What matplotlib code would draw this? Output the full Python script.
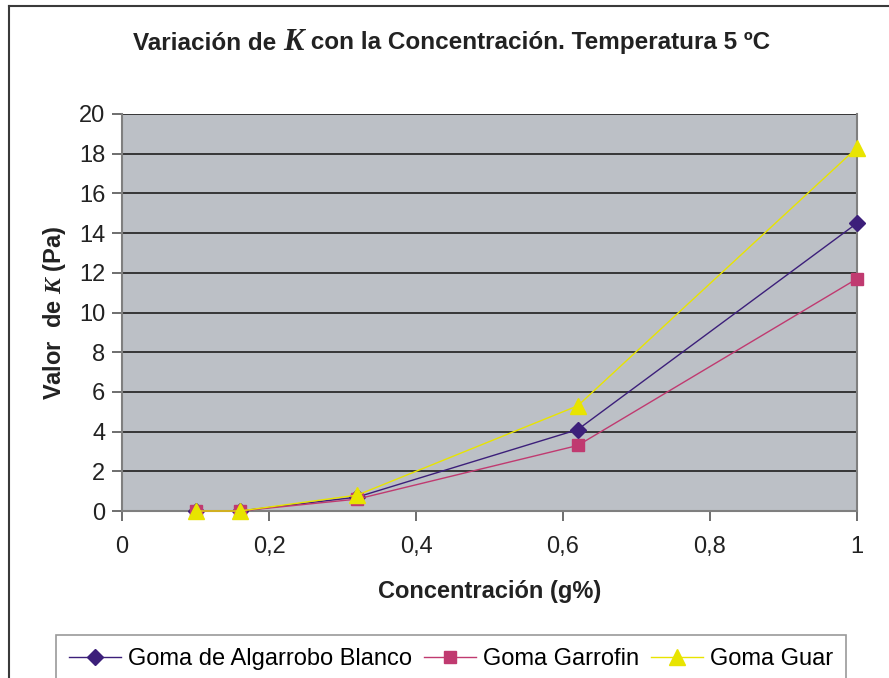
import matplotlib
matplotlib.use("Agg")
import matplotlib.pyplot as plt
from matplotlib.lines import Line2D
from matplotlib.ticker import FuncFormatter, MultipleLocator
from matplotlib.offsetbox import TextArea, HPacker, AnchoredOffsetbox

plt.rcParams['font.family'] = ['Liberation Sans', 'DejaVu Sans']
plt.rcParams['mathtext.fontset'] = 'custom'
plt.rcParams['mathtext.it'] = 'Liberation Serif:italic:bold'
plt.rcParams['mathtext.rm'] = 'Liberation Sans'

# Concentration (g%) and consistency index K (Pa) at 5 ºC
concentracion = [0.10, 0.16, 0.32, 0.62, 1.00]
k_algarrobo = [0.0, 0.0, 0.7, 4.1, 14.5]
k_garrofin = [0.0, 0.0, 0.6, 3.3, 11.7]
k_guar = [0.0, 0.0, 0.8, 5.3, 18.3]
series_labels = ["Goma de Algarrobo Blanco", "Goma Garrofin", "Goma Guar"]

W, H = 889, 678
TXT = '#222222'
fig = plt.figure(figsize=(W / 100, H / 100), dpi=100)

ax = fig.add_axes([122 / W, 1 - 511 / H, (857 - 122) / W, (511 - 114) / H])
ax.set_facecolor('#bcc0c6')

ax.plot(concentracion, k_algarrobo, color='#3c1f7a', lw=1.0, marker='D',
        ms=8, label=series_labels[0], zorder=3, clip_on=False)
ax.plot(concentracion, k_garrofin, color='#c03a70', lw=1.0, marker='s',
        ms=9, label=series_labels[1], zorder=3, clip_on=False)
ax.plot(concentracion, k_guar, color='#e8e400', lw=1.0, marker='^',
        ms=12, label=series_labels[2], zorder=4, clip_on=False)

ax.set_xlim(0, 1)
ax.set_ylim(0, 20)
ax.xaxis.set_major_locator(MultipleLocator(0.2))
ax.yaxis.set_major_locator(MultipleLocator(2))
ax.xaxis.set_major_formatter(FuncFormatter(
    lambda v, p: ('%g' % round(v, 2)).replace('.', ',')))
ax.grid(axis='y', color='#2b2b2b', lw=1.3)
ax.set_axisbelow(True)

for side in ['left', 'bottom', 'right']:
    ax.spines[side].set_color('#7f7f7f')
    ax.spines[side].set_linewidth(1.5)
ax.spines['top'].set_visible(False)
ax.tick_params(axis='both', direction='out', length=7, width=1.2,
               color='#555555', labelsize=17, labelcolor=TXT)
ax.tick_params(axis='x', pad=11)
ax.tick_params(axis='y', pad=5)

ax.set_xlabel("Concentración (g%)", fontsize=17, fontweight='bold',
              color=TXT, labelpad=16)
ax.set_ylabel(r"Valor  de $K$ (Pa)", fontsize=17, fontweight='bold',
              color=TXT, labelpad=8)

# title built from pieces so the italic K can be larger
bold = dict(fontsize=17.5, fontweight='bold', color=TXT, family='Liberation Sans')
kprops = dict(fontsize=22, fontweight='bold', fontstyle='italic', color=TXT,
              family='Liberation Serif')
pieces = [TextArea("Variación de ", textprops=bold),
          TextArea("K", textprops=kprops),
          TextArea(" con la Concentración. Temperatura 5 ºC", textprops=bold)]
pack = HPacker(children=pieces, align='baseline', pad=0, sep=0)
title_box = AnchoredOffsetbox(loc='center', child=pack, frameon=False,
                              bbox_to_anchor=(0.5 * (130 + 773) / W, 1 - 42 / H),
                              bbox_transform=fig.transFigure, pad=0, borderpad=0)
fig.add_artist(title_box)

leg = fig.legend(loc='upper left', bbox_to_anchor=(56 / W, 1 - 635 / H),
                 ncol=3, fontsize=17, frameon=True, fancybox=False,
                 handlelength=2.2, handletextpad=0.3, columnspacing=0.5,
                 borderpad=0.55, borderaxespad=0)
leg.get_frame().set_edgecolor('#808080')
leg.get_frame().set_linewidth(1.2)

# outer chart frame
fig.add_artist(Line2D([9 / W, 9 / W], [0, 1 - 6 / H], transform=fig.transFigure,
                      color='#3a3a3a', lw=1.5))
fig.add_artist(Line2D([9 / W, 1], [1 - 6 / H, 1 - 6 / H], transform=fig.transFigure,
                      color='#3a3a3a', lw=1.5))

fig.savefig("out.png", dpi=100)
